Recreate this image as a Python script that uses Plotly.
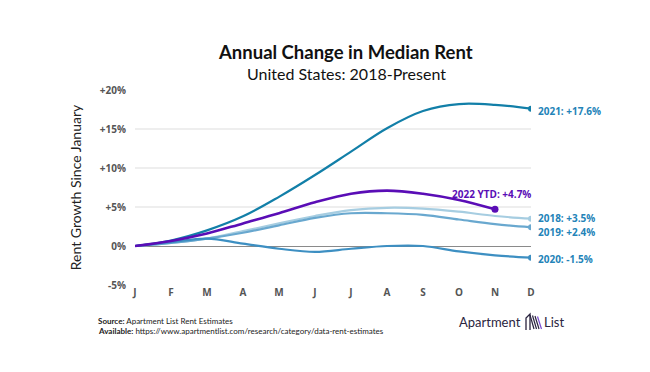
import plotly.graph_objects as go

months = ["J", "F", "M", "A", "M", "J", "J", "A", "S", "O", "N", "D"]
y2018 = [0, 0.4, 0.95, 1.9, 2.9, 3.85, 4.6, 4.9, 4.8, 4.4, 3.85, 3.5]
y2019 = [0, 0.4, 0.95, 1.7, 2.65, 3.6, 4.2, 4.2, 4.0, 3.4, 2.8, 2.4]
y2020 = [0, 0.5, 0.95, 0.3, -0.35, -0.75, -0.35, 0.0, 0.0, -0.7, -1.2, -1.5]
y2021 = [0, 0.7, 2.0, 3.8, 6.3, 9.1, 12.1, 15.1, 17.3, 18.2, 18.1, 17.6]
y2022 = [0, 0.65, 1.6, 2.9, 4.2, 5.6, 6.7, 7.1, 6.7, 5.9, 4.7]
yticks = [-5, 0, 5, 10, 15, 20]
ytick_text = ["-5%", "0%", "+5%", "+10%", "+15%", "+20%"]

series = [
    ("2018", y2018, "#a6cde1", "2018: +3.5%", 1),
    ("2019", y2019, "#69a8cf", "2019: +2.4%", -5),
    ("2020", y2020, "#3d8fc2", "2020: -1.5%", -1),
    ("2021", y2021, "#127fa8", "2021: +17.6%", -2),
]
label_color = "#2383b8"

# page body has an 8px margin; the figure is sized to fit the window
OX, OY = 8, 8
W, H = 650 - OX, 372 - OY
PL, PT, PW, PH = 135 - OX, 90 - OY, 396, 195


def px(x):
    return (x - OX - PL) / PW


def py(y):
    return 1 - (y - OY - PT) / PH


fig = go.Figure()
xs = list(range(12))
for name, ys, col, lab, ysh in series:
    fig.add_trace(go.Scatter(x=xs[:len(ys)], y=ys, mode="lines", name=name,
                             line=dict(color=col, width=2.2, shape="spline", smoothing=1.0),
                             hoverinfo="skip"))
    fig.add_trace(go.Scatter(x=[len(ys) - 1], y=[ys[-1]], mode="markers",
                             marker=dict(color=col, size=6), hoverinfo="skip"))
    fig.add_annotation(x=len(ys) - 1, y=ys[-1], text="<b>" + lab + "</b>", showarrow=False,
                       xanchor="left", xshift=5, yshift=ysh,
                       font=dict(family="Open Sans", size=10, color=label_color))

fig.add_trace(go.Scatter(x=xs[:len(y2022)], y=y2022, mode="lines", name="2022",
                         line=dict(color="#5a0db6", width=2.6, shape="spline", smoothing=1.0),
                         hoverinfo="skip"))
fig.add_trace(go.Scatter(x=[len(y2022) - 1], y=[y2022[-1]], mode="markers",
                         marker=dict(color="#5a0db6", size=7), hoverinfo="skip"))
fig.add_annotation(x=len(y2022) - 1, y=y2022[-1], text="<b>2022 YTD: +4.7%</b>", showarrow=False,
                   xanchor="right", xshift=38, yshift=15,
                   font=dict(family="Open Sans", size=10, color="#5a0db6"))

# Title and subtitle
fig.add_annotation(xref="paper", yref="paper", x=px(345), y=py(52),
                   text="<b>Annual Change in Median Rent</b>", showarrow=False,
                   xanchor="center", yanchor="middle",
                   font=dict(family="Lato", size=18.5, color="#111111"))
fig.add_annotation(xref="paper", yref="paper", x=px(346), y=py(73),
                   text="United States: 2018-Present", showarrow=False,
                   xanchor="center", yanchor="middle",
                   font=dict(family="Lato", size=16, color="#111111"))

# Footer
fig.add_annotation(xref="paper", yref="paper", x=px(96), y=py(321),
                   text="<b>Source:</b> Apartment List Rent Estimates", showarrow=False,
                   xanchor="left", yanchor="middle", font=dict(family="Lato", size=8, color="#222222"))
fig.add_annotation(xref="paper", yref="paper", x=px(96), y=py(331),
                   text="<b>Available:</b> https://www.apartmentlist.com/research/category/data-rent-estimates",
                   showarrow=False, xanchor="left", yanchor="middle",
                   font=dict(family="Lato", size=8, color="#222222"))
# Logo
fig.add_annotation(xref="paper", yref="paper", x=px(523), y=py(322),
                   text="Apartment", showarrow=False, xanchor="right", yanchor="middle",
                   font=dict(family="Lato", size=13, color="#2b2540"))
fig.add_annotation(xref="paper", yref="paper", x=px(542), y=py(322),
                   text="List", showarrow=False, xanchor="left", yanchor="middle",
                   font=dict(family="Lato", size=13, color="#2b2540"))
# small building-like icon
fig.add_shape(type="path", xref="paper", yref="paper",
              path="M {} {} L {} {} L {} {} L {} {}".format(px(526), py(330), px(526), py(318),
                                                            px(530), py(314), px(530), py(330)),
              line=dict(color="#2b2540", width=1.3))
for i, c in enumerate(["#2b2540", "#2b2540", "#2b2540", "#7a4fd0"]):
    x0 = 530 + i * 2.5
    fig.add_shape(type="line", xref="paper", yref="paper",
                  x0=px(x0), x1=px(x0 + 4), y0=py(315 + i * 0.5), y1=py(329),
                  line=dict(color=c, width=1.2))

fig.update_layout(
    width=W, height=H,
    margin=dict(l=PL, r=W - PL - PW, t=PT, b=H - PT - PH),
    paper_bgcolor="white", plot_bgcolor="white",
    showlegend=False,
    xaxis=dict(range=[0, 11], tickmode="array", tickvals=xs, ticktext=["<b>" + m + "</b>" for m in months],
               showgrid=False, zeroline=False, showline=False, ticks="",
               tickfont=dict(family="Open Sans", size=10, color="#555555")),
    yaxis=dict(range=[-5, 20], tickmode="array", tickvals=yticks,
               ticktext=["<b>" + t + "</b>" for t in ytick_text],
               showgrid=True, gridcolor="#eeeeee", gridwidth=1.5,
               zeroline=True, zerolinecolor="#8a8a8a", zerolinewidth=1.2,
               showline=False, ticks="", ticklabelstandoff=8,
               tickfont=dict(family="Open Sans", size=10, color="#555555"),
               title=dict(text="Rent Growth Since January", standoff=14,
                          font=dict(family="Lato", size=14, color="#222222"))),
)

fig.write_html("out.html")
